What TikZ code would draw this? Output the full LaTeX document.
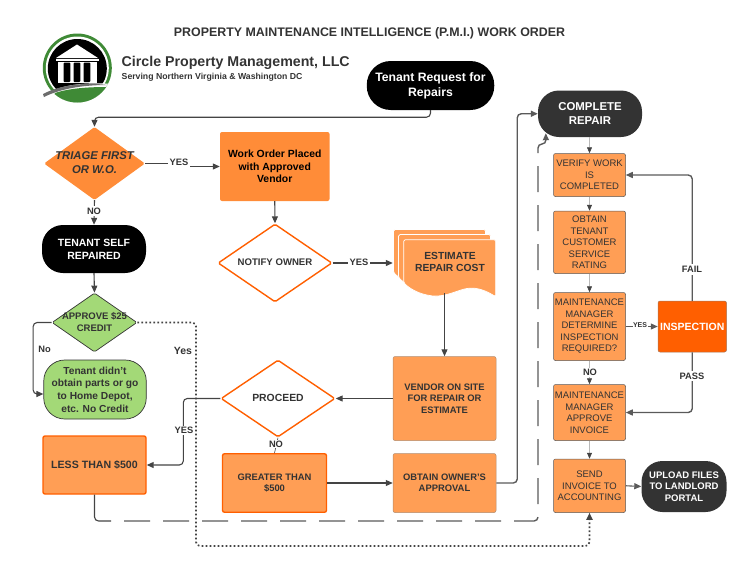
\documentclass[tikz,border=0pt]{standalone}
\usepackage{fontspec}
\setmainfont{Liberation Sans}
\usetikzlibrary{arrows.meta,shapes.geometric}
\definecolor{inkc}{HTML}{333333}
\definecolor{linec}{HTML}{444444}
\definecolor{duskc}{HTML}{5A5A5A}
\definecolor{amberc}{HTML}{FF8C38}
\definecolor{peachc}{HTML}{FF9E55}
\definecolor{flamec}{HTML}{FF5F00}
\definecolor{limec}{HTML}{A3D977}
\definecolor{logoc}{HTML}{3F8A36}
\newcommand{\fsz}[2]{\fontsize{#1}{#2}\selectfont}
\newcommand{\dtext}[1]{\smash{\makebox[0pt]{\raisebox{-3pt}{\begin{tabular}{@{}c@{}}#1\end{tabular}}}}}
\newcommand{\docpage}[2]{
\filldraw[fill=peachc, draw=white, line width=0.7pt, rounded corners=1.5pt] (#1,#2) -- (#1+92,#2) -- (#1+92,#2+57)
  .. controls (#1+84,#2+52) and (#1+74,#2+47) .. (#1+62,#2+49)
  .. controls (#1+50,#2+52) and (#1+38,#2+59) .. (#1+22,#2+55)
  .. controls (#1+14,#2+53) and (#1+6,#2+49) .. (#1,#2+43) -- cycle;
}
\tikzset{
  conn/.style={draw=linec, line width=1.1pt, rounded corners=4pt, -{Triangle[length=7pt,width=6pt]}},
  heavyconn/.style={conn, draw=duskc, line width=1.4pt},
  faintconn/.style={draw=gray!55, line width=0.6pt, -{Triangle[length=6pt,width=5pt,color=linec]}},
  lab/.style={fill=white, inner sep=2pt, text=inkc, font=\fsz{9.3}{11}\bfseries},
  opbox/.style={rectangle, rounded corners=2pt, inner sep=0pt, align=center, fill=peachc},
  stepbox/.style={opbox, draw=gray!70!black, line width=0.5pt, text=inkc, font=\fsz{9.5}{11.5}},
  sitebox/.style={opbox, draw=gray!60!peachc, line width=0.5pt, text=inkc, font=\fsz{9.4}{11.5}\bfseries},
  hotbox/.style={opbox, draw=flamec, line width=1.4pt, text=inkc, font=\fsz{9.4}{11.5}\bfseries},
  pill/.style={rectangle, rounded corners=21pt, inner sep=0pt, align=center, fill=#1, text=white},
  gate/.style={diamond, inner sep=0pt, rounded corners=1.5pt, text=inkc},
}
\begin{document}
\begin{tikzpicture}[x=1pt, y=-1pt]
\useasboundingbox (0,0) rectangle (752,581);

% heading
\node[text=inkc, font=\fsz{12.4}{14}\bfseries] (heading) at (369.5,33) {PROPERTY MAINTENANCE INTELLIGENCE (P.M.I.) WORK ORDER};
\node[anchor=west, inner sep=0pt, text=inkc, font=\fsz{14.2}{17}\bfseries] (company) at (121.5,62.5) {Circle Property Management, LLC};
\node[anchor=west, inner sep=0pt, text=inkc, font=\fsz{8.7}{10}\bfseries] (serving) at (121.5,77) {Serving Northern Virginia \& Washington DC};

% logo
\fill[logoc] (77.3,68) circle (34.5);
\fill[white] (77.3,68) circle (31.5);
\fill[black] (77.3,68.5) circle (29.5);
\begin{scope}
  \clip (77.3,68) circle (34.5);
  \fill[white] (40,97) .. controls (60,84) and (85,82) .. (115,84) -- (115,110) -- (40,110) -- cycle;
  \fill[logoc] (55,93) .. controls (70,88) and (90,87) .. (108,87) -- (115,110) -- (50,110) -- cycle;
\end{scope}
\fill[gray!85!black] (43,94) .. controls (60,85) and (85,82) .. (107,85)
  .. controls (85,85) and (62,88) .. (44,97) -- cycle;
\fill[white] (77,44.5) -- (98,58) -- (56,58) -- cycle;
\fill[white] (55.5,59) rectangle (99,60.5);
\fill[white] (58,61.5) rectangle (96.5,83);
\foreach \colx in {63.5,73.5,83.5}
  \fill[black, rounded corners=1pt] (\colx,62.5) rectangle ++(6.8,19.5);

% left column
\node[pill=black, font=\fsz{12.2}{15}\bfseries, minimum width=127.5pt, minimum height=49pt, rounded corners=24pt] (request) at (430.5,85.5) {Tenant Request for\\Repairs};
\node[gate, fill=amberc, minimum width=101pt, minimum height=73pt] (triage) at (94.5,163.5) {\fsz{11.3}{14}\bfseries\itshape\dtext{TRIAGE FIRST\\OR W.O.}};
\node[pill=black, font=\fsz{10.5}{12.7}\bfseries, minimum width=104pt, minimum height=48pt] (selfrepair) at (94,249) {TENANT SELF\\REPAIRED};
\node[gate, fill=limec, draw=inkc, line width=0.7pt, minimum width=85pt, minimum height=59pt] (credit) at (94.5,322.5) {\fsz{9.5}{11.5}\bfseries\dtext{APPROVE \$25\\CREDIT}};
\node[pill=limec, draw=inkc, line width=0.7pt, text=inkc, font=\fsz{10.2}{12.6}\bfseries, minimum width=102.5pt, minimum height=59pt] (nocredit) at (95,389.5) {Tenant didn't\\obtain parts or go\\to Home Depot,\\etc. No Credit};
\node[hotbox, font=\fsz{10.6}{12}\bfseries, minimum width=103pt, minimum height=58pt] (less) at (94.5,465) {LESS THAN \$500};

% middle column
\node[opbox, fill=amberc, text=black, font=\fsz{10.4}{12.7}\bfseries, minimum width=109.5pt, minimum height=69pt] (work) at (274.75,166.5) {Work Order Placed\\with Approved\\Vendor};
\node[gate, fill=white, draw=flamec, line width=1.4pt, minimum width=114pt, minimum height=78pt] (notify) at (275,263) {\fsz{9.6}{11}\bfseries\dtext{NOTIFY OWNER}};
\node[gate, fill=white, draw=flamec, line width=1.4pt, minimum width=114pt, minimum height=77pt] (proceed) at (278,398.5) {\fsz{10.4}{12}\bfseries\dtext{PROCEED}};
\node[hotbox, minimum width=104pt, minimum height=58.5pt] (greater) at (274.5,483) {GREATER THAN\\\$500};

% estimate pages
\docpage{393.5}{229.5}
\docpage{398.5}{234.5}
\docpage{403.7}{239.7}
\node[minimum width=103pt, minimum height=64pt, inner sep=0pt] (stack) at (444.5,261) {};
\node[align=center, inner sep=0pt, text=inkc, font=\fsz{10.3}{12.7}\bfseries] (estimate) at (450,262) {ESTIMATE\\REPAIR COST};
\node[sitebox, minimum width=103pt, minimum height=84pt] (vendor) at (444.5,398.5) {VENDOR ON SITE\\FOR REPAIR OR\\ESTIMATE};
\node[sitebox, minimum width=103pt, minimum height=59pt] (approval) at (444.5,483) {OBTAIN OWNER'S\\APPROVAL};

% right column
\node[pill=inkc, font=\fsz{11.4}{13.7}\bfseries, minimum width=104pt, minimum height=46.5pt] (complete) at (590,113.75) {COMPLETE\\REPAIR};
\node[stepbox, minimum width=72pt, minimum height=43pt] (verify) at (589.5,175) {VERIFY WORK\\IS\\COMPLETED};
\node[stepbox, minimum width=72pt, minimum height=62.5pt] (rating) at (589.5,242.25) {OBTAIN\\TENANT\\CUSTOMER\\SERVICE\\RATING};
\node[stepbox, minimum width=72pt, minimum height=68pt] (determine) at (589.5,326.5) {MAINTENANCE\\MANAGER\\DETERMINE\\INSPECTION\\REQUIRED?};
\node[stepbox, minimum width=72pt, minimum height=56pt] (invoice) at (589.5,412.5) {MAINTENANCE\\MANAGER\\APPROVE\\INVOICE};
\node[stepbox, minimum width=72pt, minimum height=53.5pt] (send) at (589.5,485.75) {SEND\\INVOICE TO\\ACCOUNTING};
\node[opbox, fill=flamec, draw=gray!70!flamec, line width=0.5pt, text=white, font=\fsz{10.5}{12}\bfseries, minimum width=68.5pt, minimum height=51pt] (inspection) at (692.25,326.5) {INSPECTION};
\node[pill=inkc, font=\fsz{9.5}{11.5}\bfseries, minimum width=85pt, minimum height=51pt] (upload) at (684,486.5) {UPLOAD FILES\\TO LANDLORD\\PORTAL};

% connectors
\coordinate (dashstart) at (111,521);
\coordinate (dashcorner) at (538,521);
\coordinate (dashtop) at (538,144);
\coordinate (dotcorner) at (196,546);
\draw[conn] (request.south) -- ++(0,7) -| (triage.north);
\draw[conn, sharp corners] (triage.east) -- (179,163.5) |- (work.west);
\draw[conn] (triage.south) -- (selfrepair.north);
\draw[conn] (selfrepair.south) -- (credit.north);
\draw[conn] (credit.west) -- ++(-18.5,0) |- ([yshift=-4.5pt]nocredit.west);
\draw[conn] (work.south) -- (notify.north);
\draw[conn] (notify.east) -- (stack.west |- notify.east);
\draw[conn] (stack.south) -- (vendor.north);
\draw[conn] (vendor.west) -- (proceed.east);
\draw[conn] (proceed.west) -- ++(-37,0) |- (less.east);
\draw[draw=linec, line width=0.6pt] (proceed.south) -- (greater.north);
\draw[conn] (greater.east) -- (approval.west);
\draw[heavyconn] (approval.east) -- ++(21,0) |- (complete.west);
\draw[draw=linec, line width=1.1pt, rounded corners=4pt] (less.south) |- (dashstart);
\draw[heavyconn, dash pattern=on 26pt off 13pt, dash phase=26pt] (dashstart) -- (dashcorner) -- (dashtop) -- ++(8,0) -- ([xshift=8pt,yshift=4pt]complete.south west);
\draw[conn, line width=1.7pt, dash pattern=on 1.7pt off 2.3pt] (credit.east) -| (dotcorner) -| (send.south);
\draw[faintconn] (complete.south -| verify.north) -- (verify.north);
\draw[faintconn] (verify.south) -- (rating.north);
\draw[faintconn] (rating.south) -- (determine.north);
\draw[faintconn] (determine.south) -- (invoice.north);
\draw[faintconn] (invoice.south) -- (send.north);
\draw[conn, draw=duskc] (determine.east) -- (inspection.west);
\draw[heavyconn] (inspection.north) |- (verify.east);
\draw[heavyconn] (inspection.south) |- (invoice.east);
\draw[conn, draw=duskc] (send.east) -- (upload.west);

% labels
\node[lab, minimum height=13pt] (yestriage) at (179,162) {YES};
\node[lab] (notriage) at (94,211) {NO};
\node[lab] (yesnotify) at (359,262) {YES};
\node[lab, fill=none] (nolabel) at (44.5,349) {No};
\node[lab, font=\fsz{10.5}{12}\bfseries, fill=none] (yescredit) at (183,350.5) {Yes};
\node[lab, inner sep=1pt] (yesproceed) at (184,430.5) {YES};
\node[lab, inner sep=1pt] (noproceed) at (276,444) {NO};
\node[lab] (fail) at (692,269.5) {FAIL};
\node[lab] (pass) at (692,376) {PASS};
\node[lab, font=\fsz{7}{8}\bfseries, inner sep=0.5pt] (yesinspect) at (640,325.5) {YES};
\node[lab, inner sep=1pt] (noinspect) at (590,372.5) {NO};
\end{tikzpicture}
\end{document}
